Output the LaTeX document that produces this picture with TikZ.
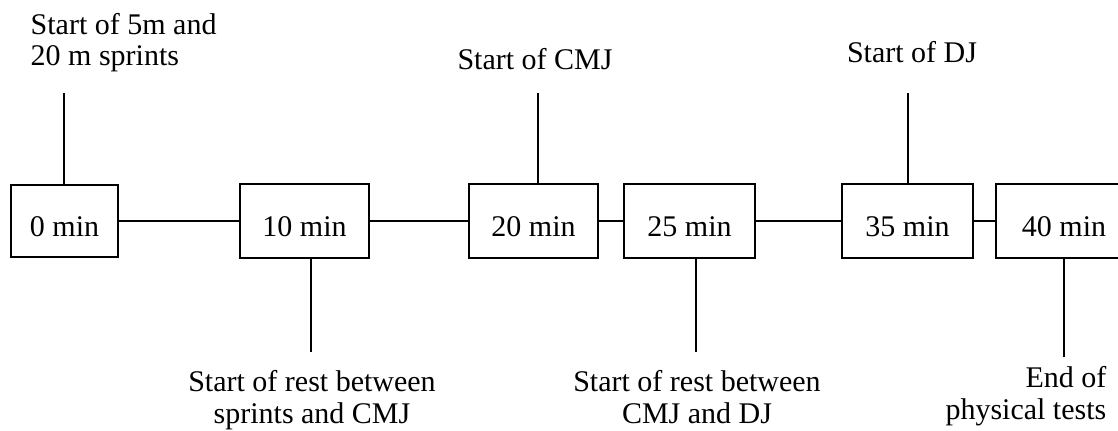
\documentclass[tikz,border=0pt]{standalone}
\usepackage{fontspec}
\setmainfont{Liberation Serif}
\usetikzlibrary{positioning}

\begin{document}
\begin{tikzpicture}[x=0.5pt, y=-0.5pt, line width=0.7pt,
        every node/.style={font=\fontsize{15}{15.8}\selectfont},
        timebox/.style={draw, minimum width=64.5pt, minimum height=37pt,
            inner sep=0pt, text height=15pt, text depth=0pt},
        note/.style={inner sep=0pt}]
        % Frame
        \clip (0,0) rectangle (1118,430);
        % Time boxes
        \node [timebox, minimum width=53.5pt, minimum height=36pt] (b0) at (64.5,221) {0 min};
        \node [timebox] (b10) at (304.5,221) {10 min};
        \node [timebox] (b20) at (533.5,221) {20 min};
        \node [timebox, minimum width=65.5pt] (b25) at (689.5,221) {25 min};
        \node [timebox, minimum width=65.5pt] (b35) at (907.5,221) {35 min};
        \node [timebox, minimum width=68pt] (b40) at (1064,221) {40 min};
        % Time line
        \draw (b0) -- (b10);
        \draw (b10) -- (b20);
        \draw (b20) -- (b25);
        \draw (b25) -- (b35);
        \draw (b35) -- (b40);
        % Labels
        \node [note, anchor=north west, align=left] (sprint) at (30,12.5)
            {Start of 5m and\\20 m sprints};
        \node [note, anchor=base] (cmj) at (535,69) {Start of CMJ};
        \node [note, anchor=base] (dj) at (912,62) {Start of DJ};
        \node [note, anchor=north, align=center] (rest1) at (312,370)
            {Start of rest between\\sprints and CMJ};
        \node [note, anchor=north, align=center] (rest2) at (697,370)
            {Start of rest between\\CMJ and DJ};
        \node [note, anchor=north east, align=right] (end) at (1107,366)
            {End of\\physical tests};
        % Markers
        \coordinate (t0) at (64,93);
        \coordinate (t20) at (538,93);
        \coordinate (t35) at (908,93);
        \coordinate (u10) at (311,352);
        \coordinate (u25) at (696,352);
        \coordinate (u40) at (1064,357);
        \draw (t0) -- (t0 |- b0.north);
        \draw (t20) -- (t20 |- b20.north);
        \draw (t35) -- (t35 |- b35.north);
        \draw (u10) -- (u10 |- b10.south);
        \draw (u25) -- (u25 |- b25.south);
        \draw (u40) -- (u40 |- b40.south);
\end{tikzpicture}
\end{document}
